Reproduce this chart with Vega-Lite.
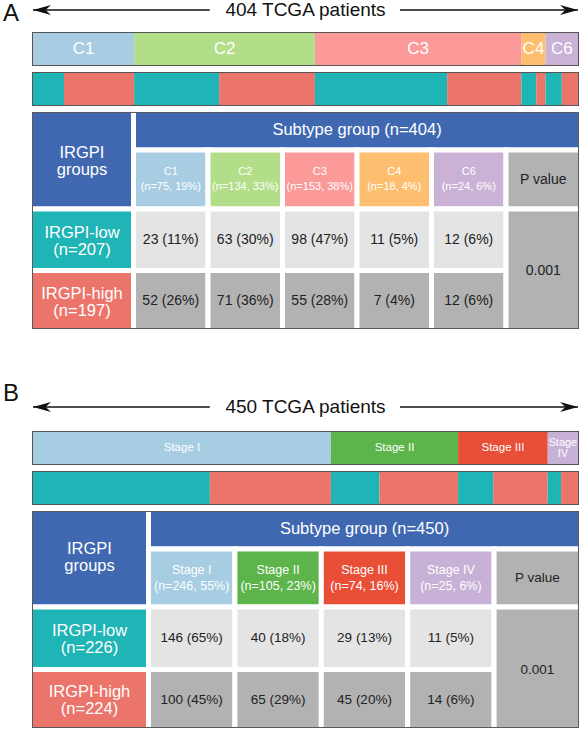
{
  "$schema": "https://vega.github.io/schema/vega-lite/v6.json",
  "background": "white",
  "padding": {"left": 3, "right": 3, "top": 0, "bottom": 3},
  "config": {"font": "Liberation Sans", "view": {"stroke": null}},
  "bounds": "flush",
  "spacing": 8,
  "resolve": {"scale": {"x": "independent", "y": "independent", "color": "independent"}},
  "vconcat": [
    {
      "width": 545, "height": 25,
      "data": {"values": [{"panel": "A", "label": "404 TCGA patients"}]},
      "layer": [
        {"mark": {"type": "rule", "color": "#111", "strokeWidth": 1.5, "yOffset": -2.5},
         "encoding": {"x": {"datum": 0, "type": "quantitative", "scale": {"domain": [0, 404], "nice": false, "zero": false}, "axis": null},
                      "x2": {"datum": 131},
                      "y": {"datum": 0, "type": "quantitative", "scale": {"domain": [-1, 1], "nice": false}, "axis": null}}},
        {"mark": {"type": "rule", "color": "#111", "strokeWidth": 1.5, "yOffset": -2.5},
         "encoding": {"x": {"datum": 272, "type": "quantitative"}, "x2": {"datum": 404}, "y": {"datum": 0, "type": "quantitative"}}},
        {"mark": {"type": "point", "filled": true, "opacity": 1, "color": "#111", "size": 324, "shape": "M0,0L2,-0.55L1.4,0L2,0.55Z", "yOffset": -2.5},
         "encoding": {"x": {"datum": 0, "type": "quantitative"}, "y": {"datum": 0, "type": "quantitative"}}},
        {"mark": {"type": "point", "filled": true, "opacity": 1, "color": "#111", "size": 324, "shape": "M0,0L-2,-0.55L-1.4,0L-2,0.55Z", "yOffset": -2.5},
         "encoding": {"x": {"datum": 404, "type": "quantitative"}, "y": {"datum": 0, "type": "quantitative"}}},
        {"mark": {"type": "text", "fontSize": 19, "color": "#111", "dy": -2.5},
         "encoding": {"x": {"datum": 202, "type": "quantitative"}, "y": {"datum": 0, "type": "quantitative"}, "text": {"field": "label"}}},
        {"mark": {"type": "text", "fontSize": 24, "color": "#111", "align": "left", "dx": -30, "dy": 1.5},
         "encoding": {"x": {"datum": 0, "type": "quantitative"}, "y": {"datum": 0, "type": "quantitative"}, "text": {"field": "panel"}}}
      ]
    },
    {
      "width": 545, "height": 32,
      "view": {"stroke": "#555", "strokeWidth": 2},
      "data": {"values": [
        {"subtype": "C1", "n": 75, "order": 1},
        {"subtype": "C2", "n": 134, "order": 2},
        {"subtype": "C3", "n": 153, "order": 3},
        {"subtype": "C4", "n": 18, "order": 4},
        {"subtype": "C6", "n": 24, "order": 5}
      ]},
      "transform": [
        {"stack": "n", "groupby": [], "sort": [{"field": "order", "order": "ascending"}], "as": ["s0", "s1"]},
        {"calculate": "(datum.s0 + datum.s1) / 2", "as": "mid"}
      ],
      "layer": [
        {"mark": {"type": "rect"},
         "encoding": {"x": {"field": "s0", "type": "quantitative", "scale": {"domain": [0, 404], "nice": false, "zero": false}, "axis": null},
                      "x2": {"field": "s1"},
                      "color": {"field": "subtype", "type": "nominal", "scale": {"domain": ["C1", "C2", "C3", "C4", "C6"], "range": ["#a8cde2", "#b2de89", "#fb9a99", "#fdbe6f", "#c9b2d6"]}, "legend": null}}},
        {"mark": {"type": "text", "color": "white", "fontSize": 17},
         "encoding": {"x": {"field": "mid", "type": "quantitative"}, "text": {"field": "subtype"}}}
      ]
    },
    {
      "width": 545, "height": 32,
      "view": {"stroke": "#555", "strokeWidth": 2},
      "data": {"values": [
        {"subtype": "C1", "group": "IRGPI-low", "n": 23, "order": 1},
        {"subtype": "C1", "group": "IRGPI-high", "n": 52, "order": 2},
        {"subtype": "C2", "group": "IRGPI-low", "n": 63, "order": 3},
        {"subtype": "C2", "group": "IRGPI-high", "n": 71, "order": 4},
        {"subtype": "C3", "group": "IRGPI-low", "n": 98, "order": 5},
        {"subtype": "C3", "group": "IRGPI-high", "n": 55, "order": 6},
        {"subtype": "C4", "group": "IRGPI-low", "n": 11, "order": 7},
        {"subtype": "C4", "group": "IRGPI-high", "n": 7, "order": 8},
        {"subtype": "C6", "group": "IRGPI-low", "n": 12, "order": 9},
        {"subtype": "C6", "group": "IRGPI-high", "n": 12, "order": 10}
      ]},
      "transform": [
        {"stack": "n", "groupby": [], "sort": [{"field": "order", "order": "ascending"}], "as": ["s0", "s1"]}
      ],
      "mark": {"type": "rect"},
      "encoding": {"x": {"field": "s0", "type": "quantitative", "scale": {"domain": [0, 404], "nice": false, "zero": false}, "axis": null},
                   "x2": {"field": "s1"},
                   "color": {"field": "group", "type": "nominal", "scale": {"domain": ["IRGPI-low", "IRGPI-high"], "range": ["#1fb5b6", "#eb756b"]}, "legend": null}}
    },
    {
      "width": 545, "height": 215,
      "view": {"stroke": "#5a5a5a", "strokeWidth": 2},
      "data": {"values": [
        {"c0": 0, "c1": 1, "r0": 0, "r1": 2, "key": "Header", "kind": "corner", "label": "IRGPI\ngroups"},
        {"c0": 1, "c1": 7, "r0": 0, "r1": 1, "key": "Header", "kind": "title", "label": "Subtype group (n=404)"},
        {"c0": 1, "c1": 2, "r0": 1, "r1": 2, "key": "C1", "kind": "sub", "label": "C1\n(n=75, 19%)"},
        {"c0": 2, "c1": 3, "r0": 1, "r1": 2, "key": "C2", "kind": "sub", "label": "C2\n(n=134, 33%)"},
        {"c0": 3, "c1": 4, "r0": 1, "r1": 2, "key": "C3", "kind": "sub", "label": "C3\n(n=153, 38%)"},
        {"c0": 4, "c1": 5, "r0": 1, "r1": 2, "key": "C4", "kind": "sub", "label": "C4\n(n=18, 4%)"},
        {"c0": 5, "c1": 6, "r0": 1, "r1": 2, "key": "C6", "kind": "sub", "label": "C6\n(n=24, 6%)"},
        {"c0": 6, "c1": 7, "r0": 1, "r1": 2, "key": "P", "kind": "val", "label": "P value"},
        {"c0": 0, "c1": 1, "r0": 2, "r1": 3, "key": "IRGPI-low", "kind": "head", "label": "IRGPI-low\n(n=207)"},
        {"c0": 0, "c1": 1, "r0": 3, "r1": 4, "key": "IRGPI-high", "kind": "head", "label": "IRGPI-high\n(n=197)"},
        {"c0": 1, "c1": 2, "r0": 2, "r1": 3, "key": "lowval", "kind": "val", "label": "23 (11%)"},
        {"c0": 2, "c1": 3, "r0": 2, "r1": 3, "key": "lowval", "kind": "val", "label": "63 (30%)"},
        {"c0": 3, "c1": 4, "r0": 2, "r1": 3, "key": "lowval", "kind": "val", "label": "98 (47%)"},
        {"c0": 4, "c1": 5, "r0": 2, "r1": 3, "key": "lowval", "kind": "val", "label": "11 (5%)"},
        {"c0": 5, "c1": 6, "r0": 2, "r1": 3, "key": "lowval", "kind": "val", "label": "12 (6%)"},
        {"c0": 1, "c1": 2, "r0": 3, "r1": 4, "key": "highval", "kind": "val", "label": "52 (26%)"},
        {"c0": 2, "c1": 3, "r0": 3, "r1": 4, "key": "highval", "kind": "val", "label": "71 (36%)"},
        {"c0": 3, "c1": 4, "r0": 3, "r1": 4, "key": "highval", "kind": "val", "label": "55 (28%)"},
        {"c0": 4, "c1": 5, "r0": 3, "r1": 4, "key": "highval", "kind": "val", "label": "7 (4%)"},
        {"c0": 5, "c1": 6, "r0": 3, "r1": 4, "key": "highval", "kind": "val", "label": "12 (6%)"},
        {"c0": 6, "c1": 7, "r0": 2, "r1": 4, "key": "P", "kind": "val", "label": "0.001"}
      ]},
      "transform": [
        {"calculate": "(datum.c0 + datum.c1) / 2", "as": "cx"},
        {"calculate": "(datum.r0 + datum.r1) / 2", "as": "cy"}
      ],
      "layer": [
        {"mark": {"type": "rect", "stroke": "white", "strokeWidth": 5, "clip": true},
         "encoding": {
           "x": {"field": "c0", "type": "quantitative", "scale": {"domain": [0, 1, 7], "range": [-2.5, 100.5, 547.5], "nice": false, "zero": false}, "axis": null},
           "x2": {"field": "c1"},
           "y": {"field": "r0", "type": "quantitative", "scale": {"domain": [0, 1, 2, 3, 4], "range": [-2.5, 37, 96, 157.5, 217.5], "nice": false, "zero": false}, "axis": null},
           "y2": {"field": "r1"},
           "color": {"field": "key", "type": "nominal", "scale": {"domain": ["Header", "C1", "C2", "C3", "C4", "C6", "P", "IRGPI-low", "IRGPI-high", "lowval", "highval"], "range": ["#4068b0", "#a8cde2", "#b2de89", "#fb9a99", "#fdbe6f", "#c9b2d6", "#b2b2b2", "#1fb5b6", "#eb756b", "#e4e4e4", "#b2b2b2"]}, "legend": null}}},
        {"transform": [{"filter": "datum.kind === 'corner'"}],
         "mark": {"type": "text", "color": "white", "fontSize": 16.5, "lineBreak": "\n", "lineHeight": 17, "dy": 2.5},
         "encoding": {"x": {"field": "cx", "type": "quantitative"}, "y": {"field": "cy", "type": "quantitative"}, "text": {"field": "label"}}},
        {"transform": [{"filter": "datum.kind === 'title'"}],
         "mark": {"type": "text", "color": "white", "fontSize": 16.5},
         "encoding": {"x": {"field": "cx", "type": "quantitative"}, "y": {"field": "cy", "type": "quantitative"}, "text": {"field": "label"}}},
        {"transform": [{"filter": "datum.kind === 'head'"}],
         "mark": {"type": "text", "color": "white", "fontSize": 16.5, "lineBreak": "\n", "lineHeight": 17, "dy": -7},
         "encoding": {"x": {"field": "cx", "type": "quantitative"}, "y": {"field": "cy", "type": "quantitative"}, "text": {"field": "label"}}},
        {"transform": [{"filter": "datum.kind === 'sub'"}],
         "mark": {"type": "text", "color": "white", "fontSize": 11, "lineBreak": "\n", "lineHeight": 15, "dy": -7.5},
         "encoding": {"x": {"field": "cx", "type": "quantitative"}, "y": {"field": "cy", "type": "quantitative"}, "text": {"field": "label"}}},
        {"transform": [{"filter": "datum.kind === 'val'"}],
         "mark": {"type": "text", "color": "#222", "fontSize": 14},
         "encoding": {"x": {"field": "cx", "type": "quantitative"}, "y": {"field": "cy", "type": "quantitative"}, "text": {"field": "label"}}}
      ]
    },
    {
      "width": 545, "height": 88,
      "data": {"values": [{"panel": "B", "label": "450 TCGA patients"}]},
      "layer": [
        {"mark": {"type": "rule", "color": "#111", "strokeWidth": 1.5, "yOffset": 27},
         "encoding": {"x": {"datum": 0, "type": "quantitative", "scale": {"domain": [0, 450], "nice": false, "zero": false}, "axis": null},
                      "x2": {"datum": 146},
                      "y": {"datum": 0, "type": "quantitative", "scale": {"domain": [-1, 1], "nice": false}, "axis": null}}},
        {"mark": {"type": "rule", "color": "#111", "strokeWidth": 1.5, "yOffset": 27},
         "encoding": {"x": {"datum": 303, "type": "quantitative"}, "x2": {"datum": 450}, "y": {"datum": 0, "type": "quantitative"}}},
        {"mark": {"type": "point", "filled": true, "opacity": 1, "color": "#111", "size": 324, "shape": "M0,0L2,-0.55L1.4,0L2,0.55Z", "yOffset": 27},
         "encoding": {"x": {"datum": 0, "type": "quantitative"}, "y": {"datum": 0, "type": "quantitative"}}},
        {"mark": {"type": "point", "filled": true, "opacity": 1, "color": "#111", "size": 324, "shape": "M0,0L-2,-0.55L-1.4,0L-2,0.55Z", "yOffset": 27},
         "encoding": {"x": {"datum": 450, "type": "quantitative"}, "y": {"datum": 0, "type": "quantitative"}}},
        {"mark": {"type": "text", "fontSize": 19, "color": "#111", "dy": 27},
         "encoding": {"x": {"datum": 225, "type": "quantitative"}, "y": {"datum": 0, "type": "quantitative"}, "text": {"field": "label"}}},
        {"mark": {"type": "text", "fontSize": 24, "color": "#111", "align": "left", "dx": -30, "dy": 14},
         "encoding": {"x": {"datum": 0, "type": "quantitative"}, "y": {"datum": 0, "type": "quantitative"}, "text": {"field": "panel"}}}
      ]
    },
    {
      "width": 545, "height": 32,
      "view": {"stroke": "#555", "strokeWidth": 2},
      "data": {"values": [
        {"stage": "Stage I", "label": "Stage I", "n": 246, "order": 1},
        {"stage": "Stage II", "label": "Stage II", "n": 105, "order": 2},
        {"stage": "Stage III", "label": "Stage III", "n": 74, "order": 3},
        {"stage": "Stage IV", "label": "Stage\nIV", "n": 25, "order": 4}
      ]},
      "transform": [
        {"stack": "n", "groupby": [], "sort": [{"field": "order", "order": "ascending"}], "as": ["s0", "s1"]},
        {"calculate": "(datum.s0 + datum.s1) / 2", "as": "mid"}
      ],
      "layer": [
        {"mark": {"type": "rect"},
         "encoding": {"x": {"field": "s0", "type": "quantitative", "scale": {"domain": [0, 450], "nice": false, "zero": false}, "axis": null},
                      "x2": {"field": "s1"},
                      "color": {"field": "stage", "type": "nominal", "scale": {"domain": ["Stage I", "Stage II", "Stage III", "Stage IV"], "range": ["#a6cde2", "#5cb44a", "#e94e36", "#c8b1d7"]}, "legend": null}}},
        {"transform": [{"filter": "datum.stage !== 'Stage IV'"}],
         "mark": {"type": "text", "color": "white", "fontSize": 11.5},
         "encoding": {"x": {"field": "mid", "type": "quantitative"}, "text": {"field": "label"}}},
        {"transform": [{"filter": "datum.stage === 'Stage IV'"}],
         "mark": {"type": "text", "color": "white", "fontSize": 11, "lineBreak": "\n", "lineHeight": 11.5, "dy": -5.5},
         "encoding": {"x": {"field": "mid", "type": "quantitative"}, "text": {"field": "label"}}}
      ]
    },
    {
      "width": 545, "height": 32,
      "view": {"stroke": "#555", "strokeWidth": 2},
      "data": {"values": [
        {"stage": "Stage I", "group": "IRGPI-low", "n": 146, "order": 1},
        {"stage": "Stage I", "group": "IRGPI-high", "n": 100, "order": 2},
        {"stage": "Stage II", "group": "IRGPI-low", "n": 40, "order": 3},
        {"stage": "Stage II", "group": "IRGPI-high", "n": 65, "order": 4},
        {"stage": "Stage III", "group": "IRGPI-low", "n": 29, "order": 5},
        {"stage": "Stage III", "group": "IRGPI-high", "n": 45, "order": 6},
        {"stage": "Stage IV", "group": "IRGPI-low", "n": 11, "order": 7},
        {"stage": "Stage IV", "group": "IRGPI-high", "n": 14, "order": 8}
      ]},
      "transform": [
        {"stack": "n", "groupby": [], "sort": [{"field": "order", "order": "ascending"}], "as": ["s0", "s1"]}
      ],
      "mark": {"type": "rect"},
      "encoding": {"x": {"field": "s0", "type": "quantitative", "scale": {"domain": [0, 450], "nice": false, "zero": false}, "axis": null},
                   "x2": {"field": "s1"},
                   "color": {"field": "group", "type": "nominal", "scale": {"domain": ["IRGPI-low", "IRGPI-high"], "range": ["#1fb5b6", "#eb756b"]}, "legend": null}}
    },
    {
      "width": 545, "height": 215,
      "view": {"stroke": "#5a5a5a", "strokeWidth": 2},
      "data": {"values": [
        {"c0": 0, "c1": 1, "r0": 0, "r1": 2, "key": "Header", "kind": "corner", "label": "IRGPI\ngroups"},
        {"c0": 1, "c1": 6, "r0": 0, "r1": 1, "key": "Header", "kind": "title", "label": "Subtype group (n=450)"},
        {"c0": 1, "c1": 2, "r0": 1, "r1": 2, "key": "Stage I", "kind": "sub", "label": "Stage I\n(n=246, 55%)"},
        {"c0": 2, "c1": 3, "r0": 1, "r1": 2, "key": "Stage II", "kind": "sub", "label": "Stage II\n(n=105, 23%)"},
        {"c0": 3, "c1": 4, "r0": 1, "r1": 2, "key": "Stage III", "kind": "sub", "label": "Stage III\n(n=74, 16%)"},
        {"c0": 4, "c1": 5, "r0": 1, "r1": 2, "key": "Stage IV", "kind": "sub", "label": "Stage IV\n(n=25, 6%)"},
        {"c0": 5, "c1": 6, "r0": 1, "r1": 2, "key": "P", "kind": "val", "label": "P value"},
        {"c0": 0, "c1": 1, "r0": 2, "r1": 3, "key": "IRGPI-low", "kind": "head", "label": "IRGPI-low\n(n=226)"},
        {"c0": 0, "c1": 1, "r0": 3, "r1": 4, "key": "IRGPI-high", "kind": "head", "label": "IRGPI-high\n(n=224)"},
        {"c0": 1, "c1": 2, "r0": 2, "r1": 3, "key": "lowval", "kind": "val", "label": "146 (65%)"},
        {"c0": 2, "c1": 3, "r0": 2, "r1": 3, "key": "lowval", "kind": "val", "label": "40 (18%)"},
        {"c0": 3, "c1": 4, "r0": 2, "r1": 3, "key": "lowval", "kind": "val", "label": "29 (13%)"},
        {"c0": 4, "c1": 5, "r0": 2, "r1": 3, "key": "lowval", "kind": "val", "label": "11 (5%)"},
        {"c0": 1, "c1": 2, "r0": 3, "r1": 4, "key": "highval", "kind": "val", "label": "100 (45%)"},
        {"c0": 2, "c1": 3, "r0": 3, "r1": 4, "key": "highval", "kind": "val", "label": "65 (29%)"},
        {"c0": 3, "c1": 4, "r0": 3, "r1": 4, "key": "highval", "kind": "val", "label": "45 (20%)"},
        {"c0": 4, "c1": 5, "r0": 3, "r1": 4, "key": "highval", "kind": "val", "label": "14 (6%)"},
        {"c0": 5, "c1": 6, "r0": 2, "r1": 4, "key": "P", "kind": "val", "label": "0.001"}
      ]},
      "transform": [
        {"calculate": "(datum.c0 + datum.c1) / 2", "as": "cx"},
        {"calculate": "(datum.r0 + datum.r1) / 2", "as": "cy"}
      ],
      "layer": [
        {"mark": {"type": "rect", "stroke": "white", "strokeWidth": 5, "clip": true},
         "encoding": {
           "x": {"field": "c0", "type": "quantitative", "scale": {"domain": [0, 1, 6], "range": [-2.5, 115.5, 547.5], "nice": false, "zero": false}, "axis": null},
           "x2": {"field": "c1"},
           "y": {"field": "r0", "type": "quantitative", "scale": {"domain": [0, 1, 2, 3, 4], "range": [-2.5, 37, 95, 157.5, 217.5], "nice": false, "zero": false}, "axis": null},
           "y2": {"field": "r1"},
           "color": {"field": "key", "type": "nominal", "scale": {"domain": ["Header", "Stage I", "Stage II", "Stage III", "Stage IV", "P", "IRGPI-low", "IRGPI-high", "lowval", "highval"], "range": ["#4068b0", "#a6cde2", "#5cb44a", "#e94e36", "#c8b1d7", "#b2b2b2", "#1fb5b6", "#eb756b", "#e4e4e4", "#b2b2b2"]}, "legend": null}}},
        {"transform": [{"filter": "datum.kind === 'corner'"}],
         "mark": {"type": "text", "color": "white", "fontSize": 16.5, "lineBreak": "\n", "lineHeight": 17, "dy": 0},
         "encoding": {"x": {"field": "cx", "type": "quantitative"}, "y": {"field": "cy", "type": "quantitative"}, "text": {"field": "label"}}},
        {"transform": [{"filter": "datum.kind === 'title'"}],
         "mark": {"type": "text", "color": "white", "fontSize": 16.5},
         "encoding": {"x": {"field": "cx", "type": "quantitative"}, "y": {"field": "cy", "type": "quantitative"}, "text": {"field": "label"}}},
        {"transform": [{"filter": "datum.kind === 'head'"}],
         "mark": {"type": "text", "color": "white", "fontSize": 16.5, "lineBreak": "\n", "lineHeight": 17, "dy": -7.5},
         "encoding": {"x": {"field": "cx", "type": "quantitative"}, "y": {"field": "cy", "type": "quantitative"}, "text": {"field": "label"}}},
        {"transform": [{"filter": "datum.kind === 'sub'"}],
         "mark": {"type": "text", "color": "white", "fontSize": 12.5, "lineBreak": "\n", "lineHeight": 16, "dy": -8},
         "encoding": {"x": {"field": "cx", "type": "quantitative"}, "y": {"field": "cy", "type": "quantitative"}, "text": {"field": "label"}}},
        {"transform": [{"filter": "datum.kind === 'val'"}],
         "mark": {"type": "text", "color": "#222", "fontSize": 13.5},
         "encoding": {"x": {"field": "cx", "type": "quantitative"}, "y": {"field": "cy", "type": "quantitative"}, "text": {"field": "label"}}}
      ]
    }
  ]
}
